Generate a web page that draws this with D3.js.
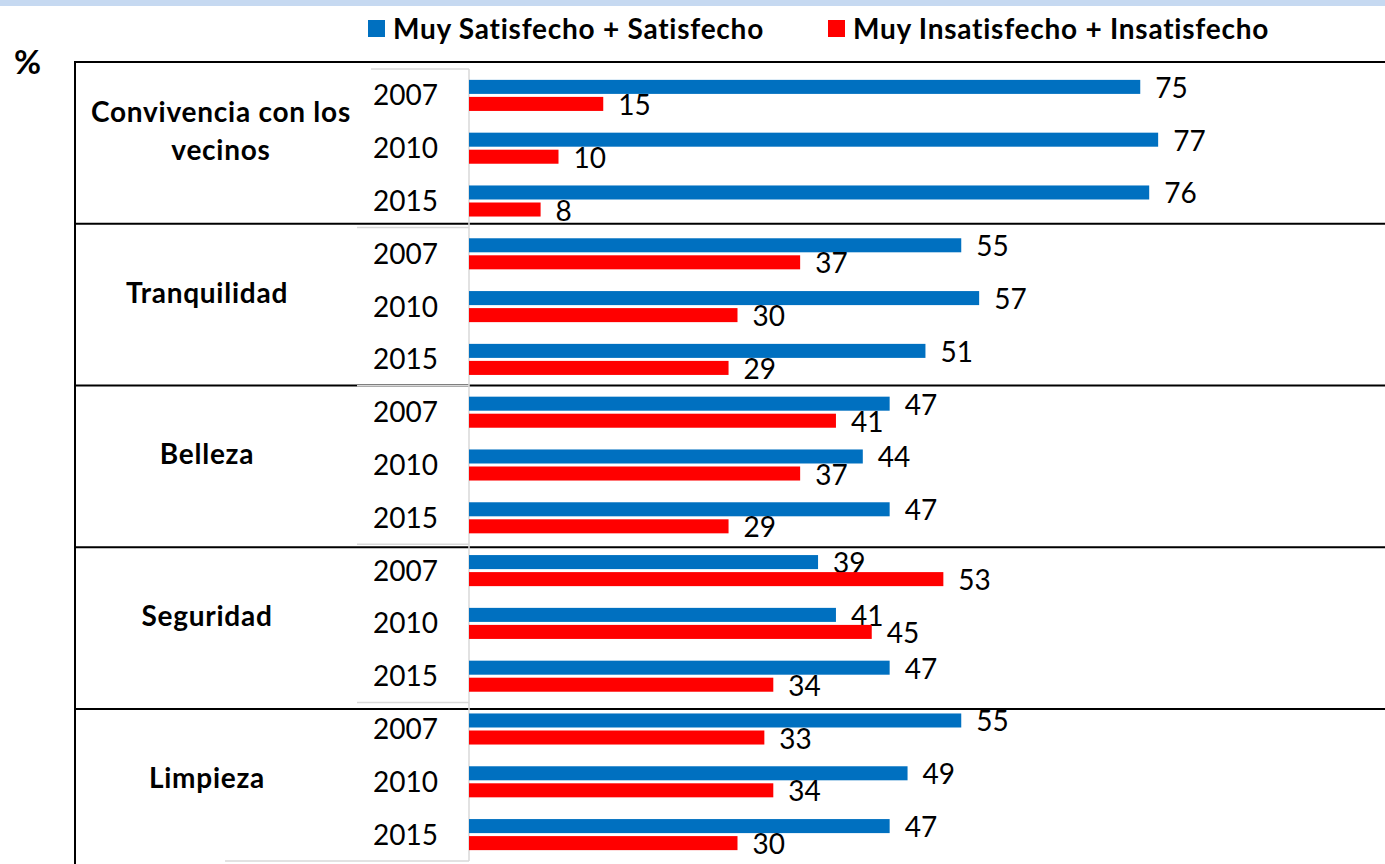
<!DOCTYPE html>
<html><head><meta charset="utf-8">
<script src="https://cdn.jsdelivr.net/npm/d3@7"></script>
<style>body{margin:0;background:#fff}svg{display:block}text{font-family:Lato,"Open Sans",sans-serif}</style>
</head><body><svg id="c" width="1385" height="864"></svg>
<script>
const categories = ["Convivencia con los\nvecinos", "Tranquilidad", "Belleza", "Seguridad", "Limpieza"];
const years = ["2007", "2010", "2015"];
const seriesNames = ["Muy Satisfecho + Satisfecho", "Muy Insatisfecho + Insatisfecho"];
const satisfied    = [75, 77, 76, 55, 57, 51, 47, 44, 47, 39, 41, 47, 55, 49, 47];
const dissatisfied = [15, 10, 8, 37, 30, 29, 41, 37, 29, 53, 45, 34, 33, 34, 30];
const seriesColors = ["#0070C0", "#FF0000"];

const svg = d3.select("#c");
const W = 1385, H = 864;

// rows (category x year)
const rows = [];
categories.forEach((c, ci) => years.forEach((y, yi) => rows.push({ci, yi, key: ci + "-" + y, year: y,
  vals: [satisfied[ci * 3 + yi], dissatisfied[ci * 3 + yi]]})));

const x = d3.scaleLinear().domain([0, 100]).range([469, 1364]);
const yRow = d3.scaleBand().domain(rows.map(r => r.key)).range([69, 861]);
const ySer = d3.scaleBand().domain([0, 1]).range([0, yRow.bandwidth()]).paddingInner(0).paddingOuter(0.55);
const yGroup = d3.scaleBand().domain(d3.range(categories.length)).range([69, 861]);
const yTable = d3.scaleBand().domain(d3.range(categories.length)).range([62, 62 + 5 * 161.75]);

// top strip
svg.append("rect").attr("x", 0).attr("y", 0).attr("width", W).attr("height", 6).attr("fill", "#C6D9F1");

// table lines
const tbl = svg.append("g");
d3.range(categories.length).forEach(i => {
  tbl.append("line").attr("x1", 74).attr("x2", W).attr("y1", yTable(i)).attr("y2", yTable(i))
    .attr("stroke", "#000").attr("stroke-width", 2);
});
tbl.append("line").attr("x1", 75).attr("x2", 75).attr("y1", 61).attr("y2", H).attr("stroke", "#000").attr("stroke-width", 2);

// category axis gray lines
const ax = svg.append("g").attr("stroke", "#D9D9D9").attr("stroke-width", 1.5);
ax.append("line").attr("x1", 469).attr("x2", 469).attr("y1", 69).attr("y2", 861);
d3.range(categories.length + 1).forEach(i => {
  const yy = i < categories.length ? yGroup(i) : yGroup(i - 1) + yGroup.bandwidth();
  const x1 = i === 0 ? 371 : (i === categories.length ? 225 : 357);
  ax.append("line").attr("x1", x1).attr("x2", 469).attr("y1", yy).attr("y2", yy);
});

// bars
const barH = ySer.bandwidth() - 3;
const g = svg.append("g");
rows.forEach(r => {
  r.vals.forEach((v, si) => {
    const by = yRow(r.key) + ySer(si) + 1.5;
    g.append("rect").attr("x", x(0)).attr("y", by).attr("width", x(v) - x(0)).attr("height", barH)
      .attr("fill", seriesColors[si]);
    g.append("text").attr("x", x(v) + 15).attr("y", by + barH / 2 + 11)
      .attr("font-size", 28).attr("fill", "#000").text(v);
  });
  g.append("text").attr("x", 438).attr("y", yRow(r.key) + yRow.bandwidth() / 2 + 10)
    .attr("text-anchor", "end").attr("font-size", 28).attr("fill", "#000").text(r.year);
});

// category labels
categories.forEach((c, ci) => {
  const lines = c.split("\n");
  const cx = lines.length > 1 ? 221 : 207;
  const cy = yTable(ci) + yTable.bandwidth() / 2 - 12;
  lines.forEach((ln, li) => {
    svg.append("text").attr("x", cx).attr("y", cy - (lines.length - 1) * 19 + li * 38 + 10)
      .attr("text-anchor", "middle").attr("font-size", 28).attr("letter-spacing", 0.75)
      .attr("font-weight", "bold").text(ln);
  });
});

// % label
svg.append("text").attr("x", 14).attr("y", 74).attr("font-size", 33).attr("font-weight", "bold").text("%");

// legend
const legX = [368, 828];
seriesNames.forEach((s, i) => {
  svg.append("rect").attr("x", legX[i]).attr("y", 20).attr("width", 17).attr("height", 17).attr("fill", seriesColors[i]);
  svg.append("text").attr("x", legX[i] + 25).attr("y", 38.5).attr("font-size", 28).attr("letter-spacing", 0.75)
    .attr("font-weight", "bold").text(s);
});
</script></body></html>
